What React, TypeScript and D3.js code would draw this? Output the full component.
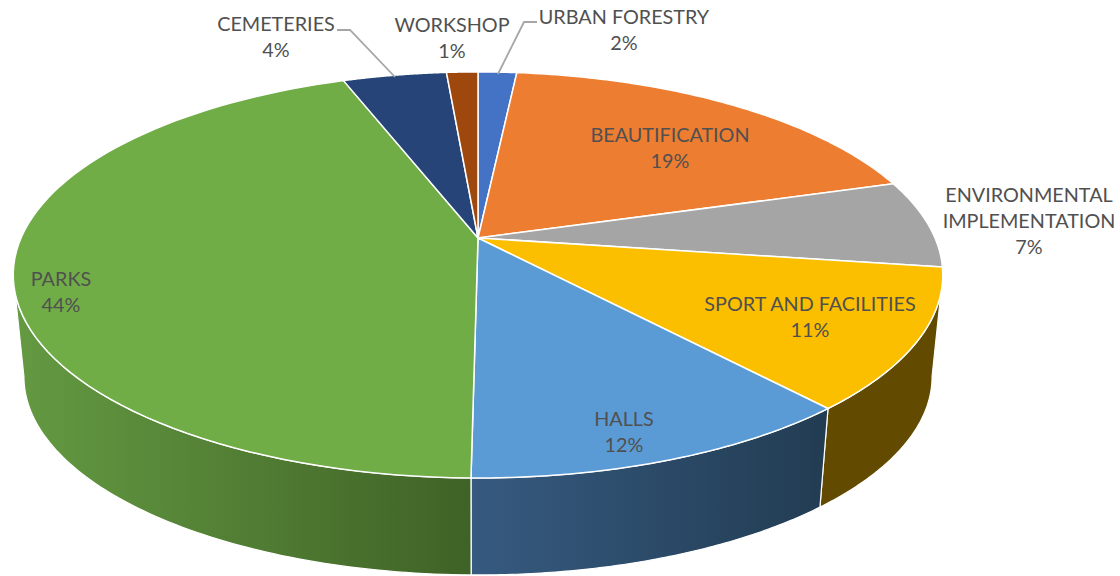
import React from "react";
import * as d3 from "d3";

const categories = ["URBAN FORESTRY", "BEAUTIFICATION", "ENVIRONMENTAL IMPLEMENTATION", "SPORT AND FACILITIES", "HALLS", "PARKS", "CEMETERIES", "WORKSHOP"];
const sliceValues = [1.6, 18.7, 7.0, 11.2, 11.7, 44.2, 4.3, 1.3];
const percentLabels = ["2%", "19%", "7%", "11%", "12%", "44%", "4%", "1%"];
const topColors = ["#4472c4", "#ed7d31", "#a5a5a5", "#fcbf00", "#5b9bd5", "#70ad47", "#264478", "#9e480e"];

const W = 1120, H = 576;
const CX = 478, CY = 238, AX = 457, BY = 196.3, K = 0.182;
const WALL_SCALE = 0.977, WALL_CY = 340.5;
const SILHOUETTE = Math.acos(-K);

const labelLayout: Record<string, { lines: string[]; x: number; y: number }> = {
  "URBAN FORESTRY": { lines: ["URBAN FORESTRY"], x: 624, y: 23.5 },
  "BEAUTIFICATION": { lines: ["BEAUTIFICATION"], x: 670, y: 142 },
  "ENVIRONMENTAL IMPLEMENTATION": { lines: ["ENVIRONMENTAL", "IMPLEMENTATION"], x: 1029, y: 201.5 },
  "SPORT AND FACILITIES": { lines: ["SPORT AND FACILITIES"], x: 810, y: 311 },
  "HALLS": { lines: ["HALLS"], x: 624, y: 426 },
  "PARKS": { lines: ["PARKS"], x: 61, y: 286 },
  "CEMETERIES": { lines: ["CEMETERIES"], x: 276, y: 31 },
  "WORKSHOP": { lines: ["WORKSHOP"], x: 452, y: 32 },
};
const leaderLines: [number, number][][] = [
  [[337, 30], [350, 30], [395, 77]],
  [[537, 22], [524, 22], [498, 74]],
];
const wallStops: Record<string, [string, string]> = {
  "SPORT AND FACILITIES": ["#624a00", "#624a00"],
  "HALLS": ["#365a80", "#223c52"],
  "PARKS": ["#649a42", "#3f6226"],
};

const pieGen = d3.pie<number>().sort(null).value((d) => d);
const arcs = pieGen(sliceValues);

function project(theta: number, scale = 1, cy = CY): [number, number] {
  const u = Math.sin(theta), v = -Math.cos(theta), w = 1 - K * v;
  return [CX + (scale * AX * u) / w, cy + (scale * BY * v) / w];
}
const lineGen = d3.line<[number, number]>().x((d) => d[0]).y((d) => d[1]);
const arcPts = (a: number, b: number, scale = 1, cy = CY) =>
  d3.range(0, 81).map((i) => project(a + ((b - a) * i) / 80, scale, cy));

export default function App() {
  const frontMin = SILHOUETTE, frontMax = Math.PI * 2 - SILHOUETTE;
  return (
    <svg width={W} height={H} style={{ position: "fixed", left: 0, top: 0, background: "#fff" }}
      fontFamily="Lato, 'Open Sans', sans-serif">
      <defs>
        {Object.entries(wallStops).map(([k, [a, b]]) => (
          <linearGradient key={k} id={"wall" + categories.indexOf(k)} x1="0" x2="1" y1="0" y2="0">
            <stop offset="0" stopColor={a} />
            <stop offset="1" stopColor={b} />
          </linearGradient>
        ))}
      </defs>
      {arcs.map((s, i) => {
        const a = Math.max(s.startAngle, frontMin), b = Math.min(s.endAngle, frontMax);
        if (b <= a || !wallStops[categories[i]]) return null;
        const pts = [...arcPts(a, b), ...arcPts(a, b, WALL_SCALE, WALL_CY).reverse()];
        return <path key={i} d={lineGen(pts) + "Z"} fill={`url(#wall${i})`} stroke="#fff" strokeWidth={1.2} strokeLinejoin="round" />;
      })}
      {arcs.map((s, i) => {
        const pts: [number, number][] = [[CX, CY], ...arcPts(s.startAngle, s.endAngle)];
        return <path key={i} d={lineGen(pts) + "Z"} fill={topColors[i]} stroke="#fff" strokeWidth={1.5} strokeLinejoin="round" />;
      })}
      {leaderLines.map((l, i) => (
        <path key={i} d={lineGen(l) ?? ""} fill="none" stroke="#a6a6a6" strokeWidth={1.8} />
      ))}
      {categories.map((c, i) => {
        const L = labelLayout[c];
        return (
          <text key={c} textAnchor="middle" fontSize={19.8} fill="#505050">
            {[...L.lines, percentLabels[i]].map((t, j) => (
              <tspan key={j} x={L.x} y={L.y + j * 26}>{t}</tspan>
            ))}
          </text>
        );
      })}
    </svg>
  );
}
